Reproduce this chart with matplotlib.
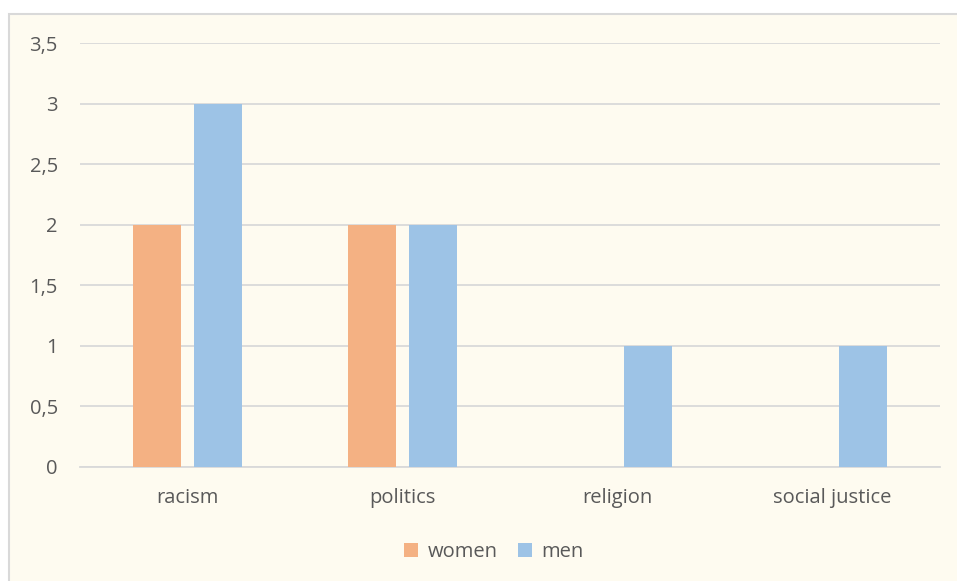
import numpy as np
import matplotlib.pyplot as plt
from matplotlib.patches import Rectangle

categories = ["racism", "politics", "religion", "social justice"]
women = [2, 2, 0, 0]
men = [3, 2, 1, 1]
yticks = [0, 0.5, 1, 1.5, 2, 2.5, 3, 3.5]

plt.rcParams['font.family'] = ['Open Sans', 'DejaVu Sans']
txt = "#595959"
grid = "#D9D9D9"

fig = plt.figure(figsize=(9.57, 5.81), dpi=100)
fig.patch.set_facecolor("white")
fig.patches.append(Rectangle((9 / 957, -0.01), 1.0, (581 - 14) / 581 + 0.01,
                             transform=fig.transFigure, facecolor="#FEFBF0",
                             edgecolor=grid, linewidth=1.5, zorder=-10))

ax = fig.add_axes([80 / 957, 114 / 581, 860 / 957, 424 / 581])
ax.set_facecolor("none")
ax.set_zorder(5)

x = np.arange(len(categories))
w = 0.223
off = 0.142
ax.bar(x - off, women, w, color="#F4B183", label="women", zorder=3)
ax.bar(x + off, men, w, color="#9DC3E6", label="men", zorder=3)

ax.set_xlim(-0.5, len(categories) - 0.5)
ax.set_ylim(0, 3.5)
ax.set_yticks(yticks)
ax.set_yticklabels([f"{v:g}".replace(".", ",") for v in yticks])
ax.set_xticks(x)
ax.set_xticklabels(categories)
ax.tick_params(length=0, labelsize=14.5, colors=txt)
ax.tick_params(axis="y", pad=16)
ax.tick_params(axis="x", pad=15)
ax.grid(axis="y", color=grid, linewidth=1.3, zorder=0)
for s in ["top", "right", "left"]:
    ax.spines[s].set_visible(False)
ax.spines["bottom"].set_color(grid)
ax.spines["bottom"].set_linewidth(1.3)

ax.legend(loc="center", bbox_to_anchor=(0.481, -0.2), ncol=2, frameon=False,
          fontsize=14.5, labelcolor=txt, handlelength=0.7, handleheight=0.7,
          handletextpad=0.45, columnspacing=1.0)

fig.savefig("out.png", dpi=100)
